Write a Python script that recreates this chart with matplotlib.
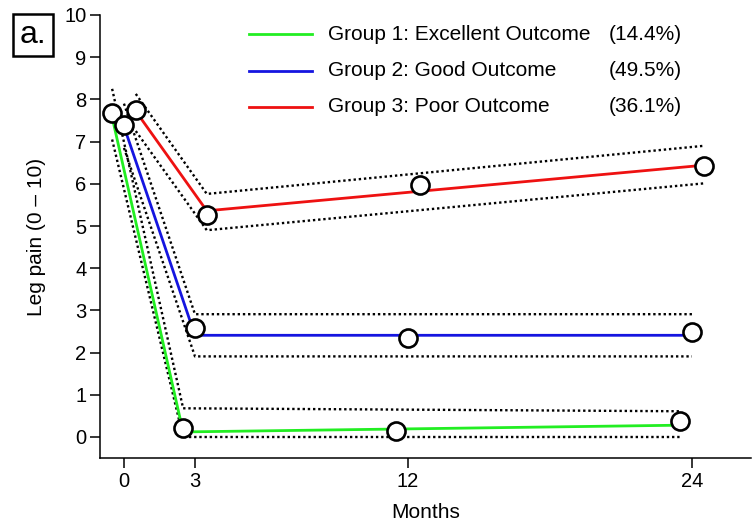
import matplotlib.pyplot as plt
from matplotlib.lines import Line2D

plt.rcParams['font.family'] = ['Liberation Sans', 'DejaVu Sans']

# observed means at each visit
months = [0, 3, 12, 24]
green_obs = [7.67, 0.22, 0.14, 0.39]
blue_obs = [7.40, 2.58, 2.34, 2.49]
red_obs = [7.76, 5.25, 5.97, 6.42]

# model estimates (knots at baseline, 3 and 24 months) with CI
knots = [0, 3, 24]
green_fit = [7.58, 0.12, 0.28]
green_hi = [8.25, 0.68, 0.61]
green_lo = [7.05, 0.00, 0.00]
blue_fit = [7.36, 2.41, 2.41]
blue_hi = [7.90, 2.91, 2.91]
blue_lo = [6.85, 1.91, 1.91]
red_fit = [7.72, 5.36, 6.44]
red_hi = [8.13, 5.76, 6.90]
red_lo = [7.25, 4.90, 6.01]

groups = ['Group 1: Excellent Outcome', 'Group 2: Good Outcome', 'Group 3: Poor Outcome']
shares = ['(14.4%)', '(49.5%)', '(36.1%)']
colors = ['#22ee22', '#1515e0', '#ee1111']
dodge = [-0.5, 0.0, 0.5]

fig = plt.figure(figsize=(7.52, 5.29), dpi=100)
ax = fig.add_axes([100.3 / 752, 70.9 / 529, 650.8 / 752, 443.1 / 529])

series = [
    (green_obs, green_fit, green_hi, green_lo),
    (blue_obs, blue_fit, blue_hi, blue_lo),
    (red_obs, red_fit, red_hi, red_lo),
]
dots = (0, (1, 1.2))
for (obs, fit, hi, lo), c, d in zip(series, colors, dodge):
    kx = [k + d for k in knots]
    ax.plot(kx, hi, color='black', lw=1.7, ls=dots, zorder=2)
    ax.plot(kx, lo, color='black', lw=1.7, ls=dots, zorder=2)
    ax.plot(kx, fit, color=c, lw=2, zorder=3)
for (obs, fit, hi, lo), d in zip(series, dodge):
    ax.plot([m + d for m in months], obs, ls='none', marker='o', ms=13,
            mfc='white', mec='black', mew=1.9, zorder=4)

ax.set_xlim(-1, 26.5)
ax.set_ylim(-0.5, 10)
ax.set_xticks(months)
ax.set_yticks(range(0, 11))
ax.spines['top'].set_visible(False)
ax.spines['right'].set_visible(False)
for s in ['left', 'bottom']:
    ax.spines[s].set_linewidth(1.1)
ax.tick_params(length=7, width=1.1, labelsize=14.5, pad=3)
ax.set_xlabel('Months', fontsize=15, labelpad=9)
ax.set_ylabel('Leg pain (0 \u2013 10)', fontsize=15, labelpad=13)

# legend drawn by hand so the percentages line up in a column
rows = [34, 71, 107]
for g, s, c, r in zip(groups, shares, colors, rows):
    yy = 1 - r / 529
    fig.add_artist(Line2D([249 / 752, 312 / 752], [yy, yy], color=c, lw=2))
    fig.text(328 / 752, yy, g, fontsize=15, va='center', ha='left')
    fig.text(609 / 752, yy, s, fontsize=15, va='center', ha='left')

fig.text(33 / 752, 1 - 35 / 529, 'a.', fontsize=23, ha='center', va='center',
         bbox=dict(boxstyle='square,pad=0.2', fc='white', ec='black', lw=1.8))

fig.savefig('out.png', dpi=100)
